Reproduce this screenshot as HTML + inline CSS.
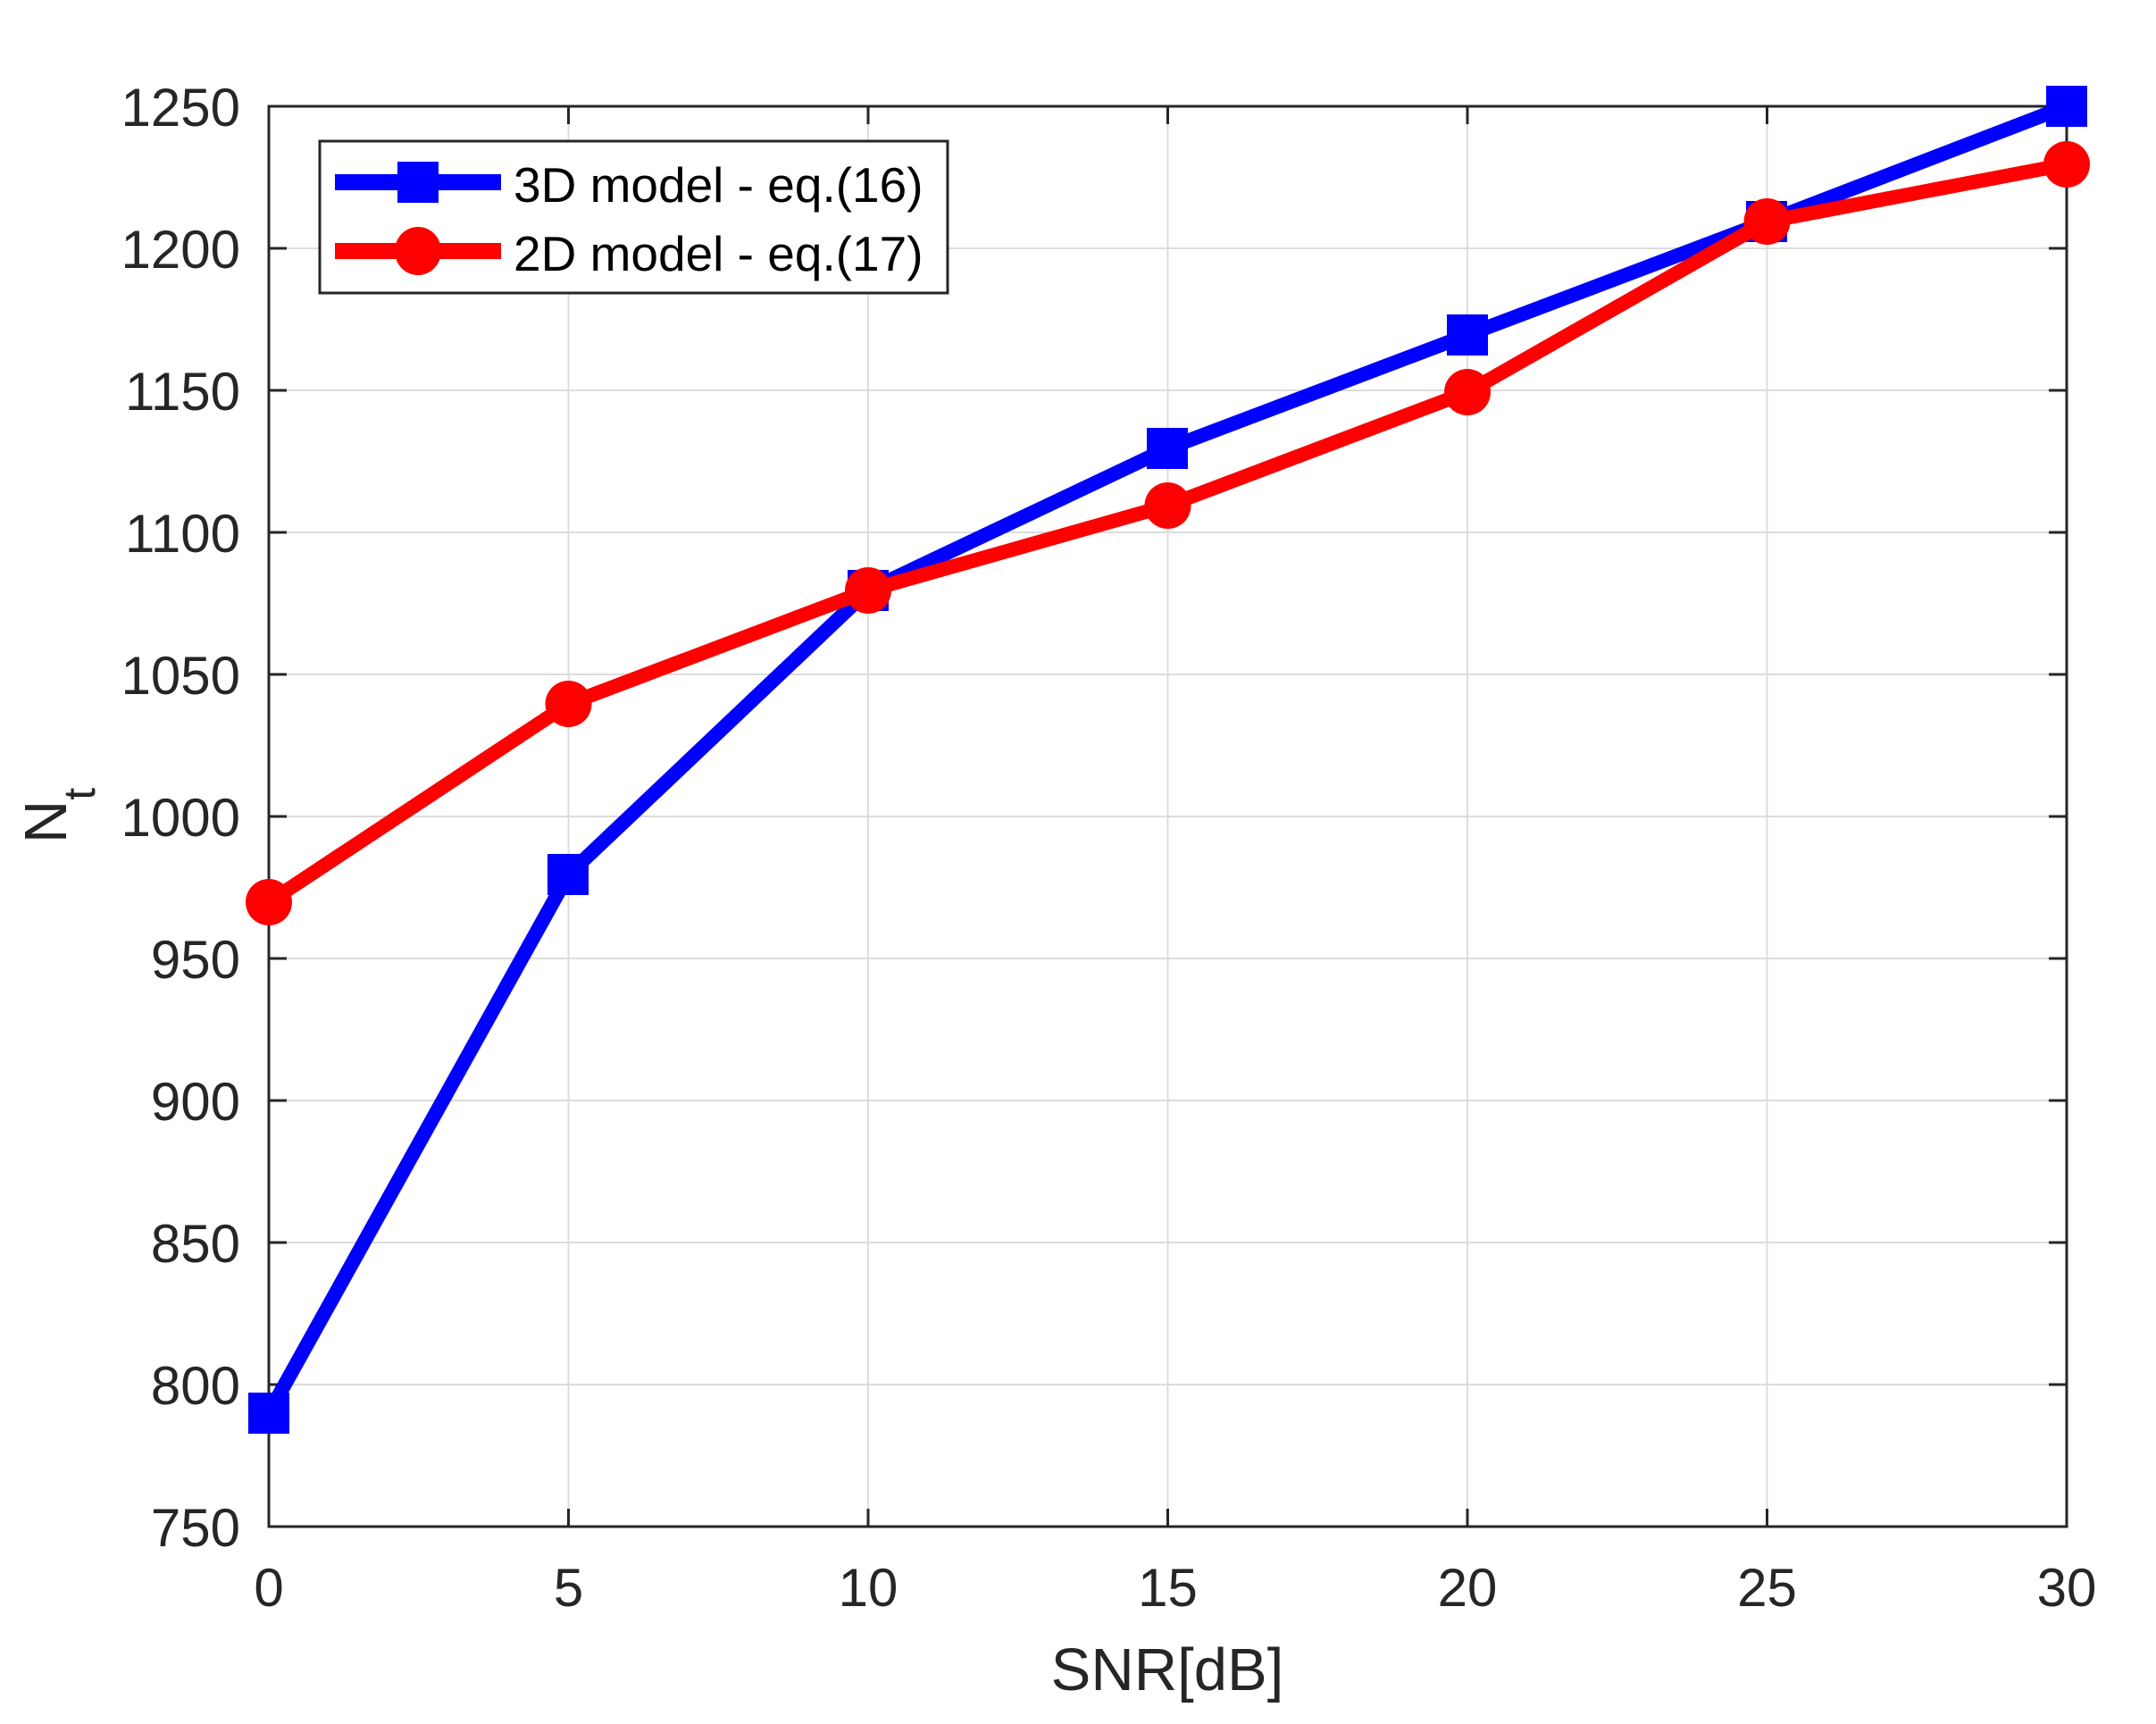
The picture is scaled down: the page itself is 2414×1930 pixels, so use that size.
<!DOCTYPE html>
<html><head><style>body{margin:0;background:#fff}</style></head><body>
<svg width="2414" height="1925" xmlns="http://www.w3.org/2000/svg" font-family="Liberation Sans, Arial, sans-serif">
<rect width="2414" height="1925" fill="#fff"/>
<g stroke="#dcdcdc" stroke-width="2">
<line x1="636.5" y1="119" x2="636.5" y2="1709"/><line x1="972" y1="119" x2="972" y2="1709"/><line x1="1307.5" y1="119" x2="1307.5" y2="1709"/><line x1="1643" y1="119" x2="1643" y2="1709"/><line x1="1978.5" y1="119" x2="1978.5" y2="1709"/>
<line x1="301" y1="278" x2="2314" y2="278"/><line x1="301" y1="437" x2="2314" y2="437"/><line x1="301" y1="596" x2="2314" y2="596"/><line x1="301" y1="755" x2="2314" y2="755"/><line x1="301" y1="914" x2="2314" y2="914"/><line x1="301" y1="1073" x2="2314" y2="1073"/><line x1="301" y1="1232" x2="2314" y2="1232"/><line x1="301" y1="1391" x2="2314" y2="1391"/><line x1="301" y1="1550" x2="2314" y2="1550"/>
</g>
<g stroke="#262626" stroke-width="3">
<path d="M636.5 1709v-20M972 1709v-20M1307.5 1709v-20M1643 1709v-20M1978.5 1709v-20M636.5 119v20M972 119v20M1307.5 119v20M1643 119v20M1978.5 119v20"/>
<path d="M301 278h20M301 437h20M301 596h20M301 755h20M301 914h20M301 1073h20M301 1232h20M301 1391h20M301 1550h20M2314 278h-20M2314 437h-20M2314 596h-20M2314 755h-20M2314 914h-20M2314 1073h-20M2314 1232h-20M2314 1391h-20M2314 1550h-20"/>
<rect x="301" y="119" width="2013" height="1590" fill="none"/>
</g>
<g fill="#262626" font-size="60" text-anchor="end">
<text x="269" y="141">1250</text><text x="269" y="300">1200</text><text x="269" y="459">1150</text><text x="269" y="618">1100</text><text x="269" y="777">1050</text><text x="269" y="936">1000</text><text x="269" y="1095">950</text><text x="269" y="1254">900</text><text x="269" y="1413">850</text><text x="269" y="1572">800</text><text x="269" y="1731">750</text>
</g>
<g fill="#262626" font-size="60" text-anchor="middle">
<text x="301" y="1798">0</text><text x="636.5" y="1798">5</text><text x="972" y="1798">10</text><text x="1307.5" y="1798">15</text><text x="1643" y="1798">20</text><text x="1978.5" y="1798">25</text><text x="2314" y="1798">30</text>
<text x="1307" y="1892" font-size="67">SNR[dB]</text>
</g>
<text transform="translate(74,913) rotate(-90)" fill="#262626" font-size="67" text-anchor="middle">N<tspan font-size="50" dy="32">t</tspan></text>
<polyline fill="none" stroke="#0000ff" stroke-width="16" stroke-linejoin="round" points="301,1582 636.5,979 972,661 1307.5,502 1643,375 1978.5,248 2314,119"/>
<g fill="#0000ff"><rect x="278" y="1559" width="46" height="46"/><rect x="613" y="956" width="46" height="46"/><rect x="949" y="638" width="46" height="46"/><rect x="1284" y="479" width="46" height="46"/><rect x="1620" y="352" width="46" height="46"/><rect x="1955" y="225" width="46" height="46"/><rect x="2291" y="96" width="46" height="46"/></g>
<polyline fill="none" stroke="#ff0000" stroke-width="16" stroke-linejoin="round" points="301,1010 636.5,788 972,661 1307.5,566 1643,439 1978.5,248 2314,184"/>
<g fill="#ff0000"><circle cx="301" cy="1010" r="26"/><circle cx="636.5" cy="788" r="26"/><circle cx="972" cy="661" r="26"/><circle cx="1307.5" cy="566" r="26"/><circle cx="1643" cy="439" r="26"/><circle cx="1978.5" cy="248" r="26"/><circle cx="2314" cy="184" r="26"/></g>
<rect x="358" y="158" width="703" height="170" fill="#fff" stroke="#262626" stroke-width="3"/>
<line x1="375" y1="204" x2="561" y2="204" stroke="#0000ff" stroke-width="18"/><rect x="445" y="181" width="46" height="46" fill="#0000ff"/>
<line x1="375" y1="281" x2="561" y2="281" stroke="#ff0000" stroke-width="18"/><ellipse cx="468" cy="281" rx="26" ry="27" fill="#ff0000"/>
<g font-size="55" fill="#000"><text x="575" y="226">3D model - eq.(16)</text><text x="575" y="303">2D model - eq.(17)</text></g>
</svg>
</body></html>
